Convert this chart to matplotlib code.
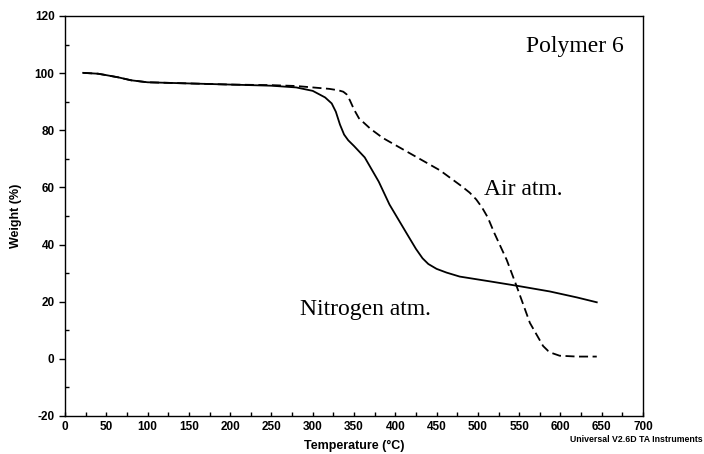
import matplotlib.pyplot as plt
from matplotlib.ticker import MultipleLocator

plt.rcParams['axes.unicode_minus'] = False

# TGA curves
n2_temp = [22, 40, 50, 65, 80, 100, 150, 200, 250, 280, 300, 315, 323, 328, 333, 338,
           343, 350, 363, 380, 393, 414, 425, 433, 440, 450, 462, 478, 515, 547, 587,
           620, 644]
n2_weight = [100.1, 99.8, 99.3, 98.5, 97.5, 96.8, 96.4, 96.0, 95.6, 95.0, 93.8, 91.5,
             89.4, 86.5, 82.0, 78.5, 76.5, 74.5, 70.5, 62.0, 54.0, 43.8, 38.5, 35.2,
             33.2, 31.5, 30.2, 28.8, 27.1, 25.6, 23.6, 21.5, 19.8]

air_temp = [22, 40, 50, 65, 80, 100, 150, 200, 250, 280, 300, 320, 331, 337, 341,
            345, 350, 356, 370, 385, 421, 454, 480, 490, 498, 505, 512, 520, 535,
            547, 563, 579, 585, 590, 599, 620, 644]
air_weight = [100.1, 99.8, 99.3, 98.5, 97.5, 96.8, 96.4, 96.0, 95.8, 95.5, 95.0, 94.5,
              94.0, 93.5, 92.6, 90.5, 87.3, 84.2, 80.5, 77.3, 71.4, 66.0, 60.5, 58.2,
              55.8, 53.0, 49.5, 44.0, 34.6, 25.4, 12.6, 4.5, 2.8, 2.0, 1.1, 0.8, 0.8]

fig = plt.figure(figsize=(7.04, 4.54), dpi=100)
ax = fig.add_axes([65 / 704, 1 - 416 / 454, (643 - 65) / 704, (416 - 16) / 454])

ax.plot(n2_temp, n2_weight, color='black', lw=1.3, linestyle='-')
ax.plot(air_temp, air_weight, color='black', lw=1.3, linestyle=(0, (5, 2.5)))

ax.set_xlim(0, 700)
ax.set_ylim(-20, 120)
ax.xaxis.set_major_locator(MultipleLocator(50))
ax.xaxis.set_minor_locator(MultipleLocator(25))
ax.yaxis.set_major_locator(MultipleLocator(20))
ax.yaxis.set_minor_locator(MultipleLocator(10))
ax.tick_params(axis='x', which='both', direction='in', length=3, width=1)
ax.tick_params(axis='y', which='major', direction='out', length=4, width=1)
ax.tick_params(axis='y', which='minor', direction='in', length=3, width=1)
ax.tick_params(labelsize=8.5)
for lab in ax.get_xticklabels() + ax.get_yticklabels():
    lab.set_fontweight('bold')
    lab.set_family('Liberation Sans')
for sp in ax.spines.values():
    sp.set_linewidth(1.0)

ax.set_xlabel('Temperature (°C)', fontsize=9, fontweight='bold', family='Liberation Sans', labelpad=5)
ax.set_ylabel('Weight (%)', fontsize=9, fontweight='bold', family='Liberation Sans', labelpad=9)

serif = 'Liberation Serif'
ax.text(677, 107.4, 'Polymer 6', fontsize=17, family=serif, ha='right', va='baseline')
ax.text(507, 57.3, 'Air atm.', fontsize=17, family=serif, ha='left', va='baseline')
ax.text(285, 15.3, 'Nitrogen atm.', fontsize=17, family=serif, ha='left', va='baseline')

fig.text(703 / 704, 1 - 440 / 454, 'Universal V2.6D TA Instruments', fontsize=6.3,
         fontweight='bold', family='Liberation Sans', ha='right', va='center')

fig.savefig('out.png', dpi=100)
